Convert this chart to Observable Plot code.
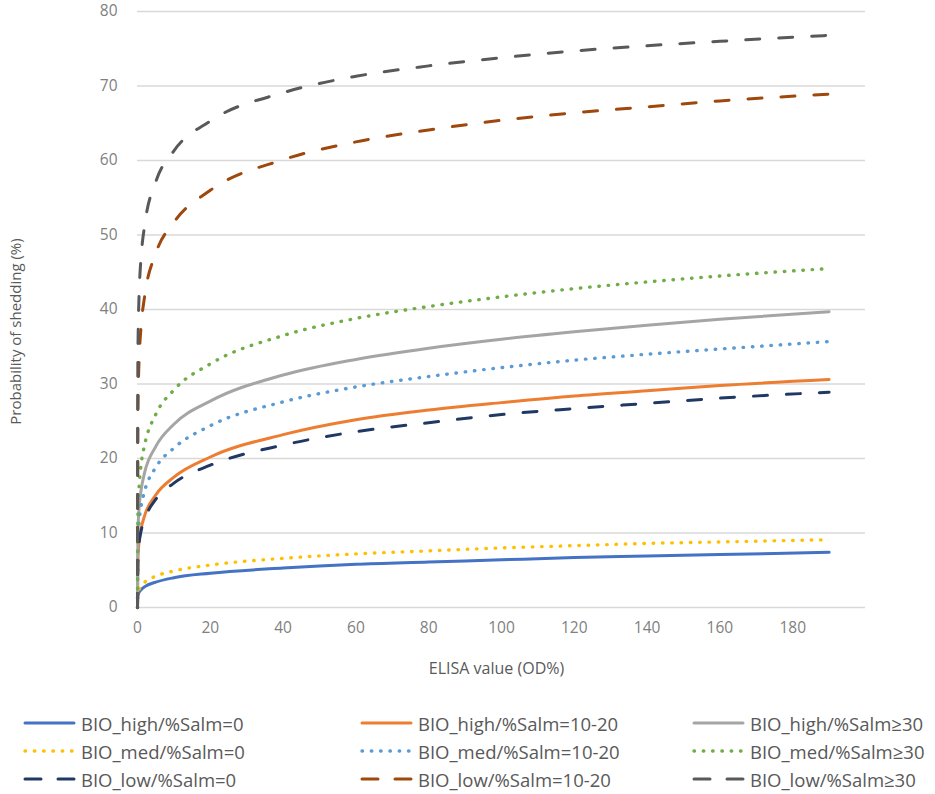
<!DOCTYPE html>
<html>
<head>
<meta charset="utf-8">
<script src="https://cdn.jsdelivr.net/npm/d3@7"></script>
<script src="https://cdn.jsdelivr.net/npm/@observablehq/plot@0.6"></script>
<style>
  body { margin: 0; background: #fff; font-family: "Open Sans", sans-serif; }
  #wrap { position: relative; width: 935px; height: 794px; }
  #legend { position: absolute; left: 0; top: 700px; width: 935px; height: 94px; }
  .item { position: absolute; display: flex; align-items: center; height: 20px; font-size: 18.5px; color: #595959; white-space: nowrap; }
  .item svg { margin-right: 5px; }
</style>
</head>
<body>
<div id="wrap">
  <div id="chart"></div>
  <div id="legend"></div>
</div>
<script>
// ELISA value (OD%) sample points
const xValues = [0, 0.1, 0.25, 0.5, 1, 2, 5, 10, 20, 40, 60, 80, 100, 120, 140, 160, 190];

const seriesNames = [
  "BIO_high/%Salm=0", "BIO_high/%Salm=10-20", "BIO_high/%Salm≥30",
  "BIO_med/%Salm=0", "BIO_med/%Salm=10-20", "BIO_med/%Salm≥30",
  "BIO_low/%Salm=0", "BIO_low/%Salm=10-20", "BIO_low/%Salm≥30"
];

// Probability of shedding (%) per series
const highSalm0  = [0, 1.4, 1.8, 2.1, 2.4, 2.8, 3.4, 4.0, 4.6, 5.3, 5.8, 6.1, 6.4, 6.7, 6.9, 7.1, 7.4];
const highSalm10 = [0, 6.3, 7.8, 9.1, 10.6, 12.4, 15.1, 17.5, 20.2, 23.2, 25.2, 26.5, 27.5, 28.4, 29.1, 29.8, 30.6];
const highSalm30 = [0, 9.8, 11.9, 13.8, 15.8, 18.2, 21.6, 24.6, 27.7, 31.2, 33.3, 34.8, 36.0, 37.0, 37.9, 38.7, 39.7];
const medSalm0   = [0, 1.7, 2.1, 2.5, 2.9, 3.4, 4.2, 4.9, 5.7, 6.6, 7.2, 7.6, 8.0, 8.3, 8.6, 8.8, 9.1];
const medSalm10  = [0, 8.3, 10.2, 11.8, 13.6, 15.7, 18.8, 21.4, 24.4, 27.6, 29.6, 31.0, 32.2, 33.2, 34.0, 34.7, 35.7];
const medSalm30  = [0, 12.0, 14.5, 16.7, 19.2, 21.9, 25.9, 29.2, 32.7, 36.5, 38.8, 40.4, 41.7, 42.8, 43.7, 44.5, 45.5];
const lowSalm0   = [0, 6.2, 7.6, 8.9, 10.3, 11.9, 14.5, 16.7, 19.1, 21.8, 23.6, 24.8, 25.9, 26.7, 27.4, 28.1, 28.9];
const lowSalm10  = [0, 25.7, 30.2, 33.9, 37.8, 41.9, 47.5, 51.7, 56.0, 60.1, 62.5, 64.1, 65.4, 66.4, 67.2, 68.0, 68.9];
const lowSalm30  = [0, 33.4, 38.6, 42.8, 47.1, 51.4, 57.1, 61.3, 65.3, 69.1, 71.3, 72.7, 73.8, 74.7, 75.4, 76.0, 76.8];

const seriesValues = [highSalm0, highSalm10, highSalm30, medSalm0, medSalm10, medSalm30, lowSalm0, lowSalm10, lowSalm30];

const xTicks = [0, 20, 40, 60, 80, 100, 120, 140, 160, 180];
const yTicks = [0, 10, 20, 30, 40, 50, 60, 70, 80];

// styles (kept separate from data)
const seriesColors = ["#4472C4", "#ED7D31", "#A5A5A5", "#FFC000", "#5B9BD5", "#70AD47", "#203864", "#9E480E", "#595959"];
const SOLID = null, DOT = "0.5,8.8", DASH = "14,19";
const seriesDash = [SOLID, SOLID, SOLID, DOT, DOT, DOT, DASH, DASH, DASH];

const rows = [];
seriesNames.forEach((name, i) => {
  xValues.forEach((x, j) => rows.push({series: name, x, y: seriesValues[i][j]}));
});

const lineMarks = seriesNames.map((name, i) =>
  Plot.line(rows.filter(d => d.series === name), {
    x: "x", y: "y",
    stroke: seriesColors[i],
    strokeWidth: seriesDash[i] === DOT ? 3.4 : 3,
    strokeDasharray: seriesDash[i] || undefined,
    strokeLinecap: "round",
    strokeLinejoin: "round",
    curve: "monotone-x"
  })
);

const chart = Plot.plot({
  width: 935,
  height: 700,
  marginLeft: 137,
  marginRight: 70,
  marginTop: 11,
  marginBottom: 93,
  style: { fontFamily: "Open Sans, sans-serif", fontSize: "15.5px", color: "#7f7f7f", background: "#fff" },
  x: { domain: [0, 200] },
  y: { domain: [0, 80] },
  marks: [
    Plot.ruleY(yTicks, { stroke: "#d9d9d9", strokeWidth: 1.5 }),
    Plot.axisY({ ticks: yTicks, tickSize: 0, tickPadding: 20, label: null, fill: "#7f7f7f" }),
    Plot.axisX({ ticks: xTicks, tickSize: 0, tickPadding: 14, label: null, fill: "#7f7f7f" }),
    ...lineMarks,
    Plot.text(["ELISA value (OD%)"], { frameAnchor: "bottom", textAnchor: "middle", dy: 66, dx: -5, fontSize: 16, fill: "#595959" }),
    Plot.text(["Probability of shedding (%)"], { frameAnchor: "left", textAnchor: "middle", dx: -121, dy: 22, rotate: -90, fontSize: 15, fill: "#595959" })
  ]
});
document.getElementById("chart").appendChild(chart);

// Legend (HTML below the SVG)
const legend = document.getElementById("legend");
const colLeft = [23, 360, 692];
const rowTop = [13, 41, 69];
seriesNames.forEach((name, i) => {
  const col = i % 3, row = Math.floor(i / 3);
  const item = document.createElement("div");
  item.className = "item";
  item.style.left = colLeft[col] + "px";
  item.style.top = rowTop[row] + "px";
  const sw = d3.create("svg").attr("width", 53).attr("height", 20);
  sw.append("line")
    .attr("x1", 2).attr("x2", 51).attr("y1", 10).attr("y2", 10)
    .attr("stroke", seriesColors[i])
    .attr("stroke-width", seriesDash[i] === DOT ? 3.4 : 3)
    .attr("stroke-linecap", "round")
    .attr("stroke-dasharray", seriesDash[i] === DASH ? "16,17" : seriesDash[i]);
  item.appendChild(sw.node());
  const t = document.createElement("span");
  t.textContent = name;
  item.appendChild(t);
  legend.appendChild(item);
});
</script>
</body>
</html>
